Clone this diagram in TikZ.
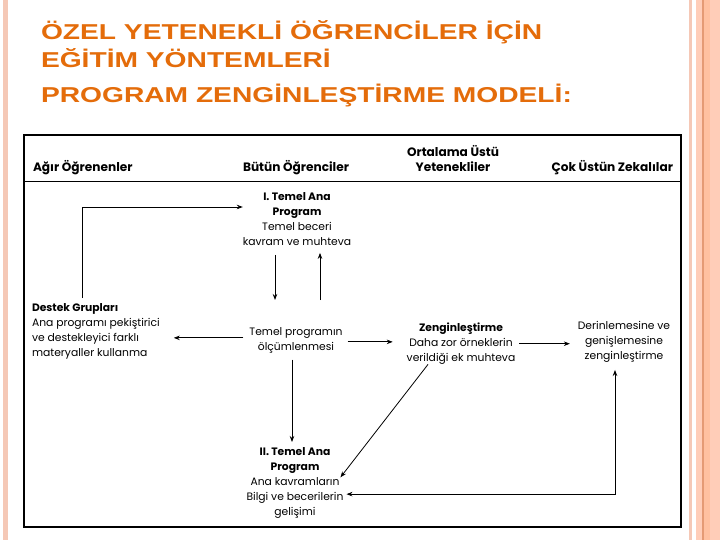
\documentclass[tikz,border=0pt]{standalone}
\usepackage{fontspec}
\setmainfont{Poppins}
\newfontfamily\titlefont{Liberation Sans}
\usetikzlibrary{arrows.meta,calc}
\definecolor{ttl}{RGB}{228,108,10}
\definecolor{pinkA}{RGB}{245,200,182}
\definecolor{pinkB}{RGB}{255,205,184}
\definecolor{pinkC}{RGB}{255,192,160}
\definecolor{orline}{RGB}{229,154,116}
\tikzset{
  txt/.style={inner sep=0pt, outer sep=0pt, font=\fontsize{10.8}{15}\selectfont},
  hdr/.style={inner sep=0pt, outer sep=0pt, font=\bfseries\fontsize{12.2}{15}\selectfont},
  ttlnode/.style={inner sep=0pt, outer sep=0pt, text=ttl, font=\titlefont\bfseries\fontsize{21.6}{24}\selectfont, anchor=base west},
  arr/.style={-{Stealth[length=6bp,width=4.5bp]}, line width=0.8bp},
  arrtwo/.style={{Stealth[length=6bp,width=4.5bp]}-{Stealth[length=6bp,width=4.5bp]}, line width=0.8bp}
}
\begin{document}
\begin{tikzpicture}[x=1bp,y=-1bp]
\useasboundingbox (0,0) rectangle (720,540);
\fill[white] (0,0) rectangle (720,540);
% slide decoration
\fill[pinkA] (3,0) rectangle (8,540);
\fill[pinkA] (689,0) rectangle (692,540);
\fill[pinkB] (696,0) rectangle (720,540);
\fill[pinkC] (703,0) rectangle (710,540);
\fill[orline] (702,0) rectangle (703.5,540);
% title
\node[ttlnode] (ttlA) at (41,39.3) {\scalebox{1.31}[1]{ÖZEL YETENEKLİ ÖĞRENCİLER İÇİN}};
\node[ttlnode] (ttlB) at (41,67.8) {\scalebox{1.31}[1]{EĞİTİM YÖNTEMLERİ}};
\node[ttlnode] (ttlC) at (41,102.5) {\scalebox{1.31}[1]{PROGRAM ZENGİNLEŞTİRME MODELİ:}};
% frame
\draw[line width=2bp] (24,135) rectangle (681,527);
\draw[line width=1.5bp] (24,181.5) -- (681,181.5);
% headers
\node[hdr, anchor=base west] (hA) at (33,172) {Ağır Öğrenenler};
\node[hdr, anchor=base west] (hB) at (243,172) {Bütün Öğrenciler};
\node[hdr, align=center, anchor=south] (hC) at (453,172) {Ortalama Üstü\\Yetenekliler};
\node[hdr, anchor=base east] (hD) at (673,172) {Çok Üstün Zekalılar};
% body
\node[txt, align=center, anchor=north] (t1) at (297,193) {\textbf{I. Temel Ana}\\\textbf{Program}\\Temel beceri\\kavram ve muhteva};
\node[txt, align=center, anchor=north] (olc) at (296,328) {Temel programın\\ölçümlenmesi};
\node[txt, align=left, anchor=north west] (destek) at (32,304) {\textbf{Destek Grupları}\\Ana programı pekiştirici\\ve destekleyici farklı\\materyaller kullanma};
\node[txt, align=center, anchor=north] (zen) at (461,323) {\textbf{Zenginleştirme}\\Daha zor örneklerin\\verildiği ek muhteva};
\node[txt, align=center, anchor=north] (der) at (624,321) {Derinlemesine ve\\genişlemesine\\zenginleştirme};
\node[txt, align=center, anchor=north] (t2) at (295,448) {\textbf{II. Temel Ana}\\\textbf{Program}\\Ana kavramların\\Bilgi ve becerilerin\\gelişimi};
% connectors
\draw[arr] ($(destek.north west)+(50,-6)$) |- ($(t1.north west)+(0,14)$);
\draw[arr] ($(t1.south)+(-22,9)$) -- ($(t1.south |- olc.north)+(-22,-28)$);
\draw[arr] ($(t1.south |- olc.north)+(23,-28)$) -- ($(t1.south)+(23,7)$);
\draw[arr] ($(olc.west)+(-6,-3)$) -- ($(olc.west -| destek.east)+(14,-3)$);
\draw[arr] ($(olc.east)+(5,1)$) -- ($(olc.east -| zen.west)+(-14,1)$);
\draw[arr] ($(zen.east)+(4,0)$) -- ($(zen.east -| der.west)+(-8,0)$);
\draw[arr] ($(olc.south)+(-4,6)$) -- ($(olc.south |- t2.north)+(-4,-6)$);
\draw[arr] ($(zen.south)+(-33,0)$) -- ($(t2.east)+(-3,-6)$);
\draw[arrtwo] ($(t2.south east)+(3,-24.5)$) -| ($(der.south)+(-9,8)$);
\end{tikzpicture}
\end{document}
